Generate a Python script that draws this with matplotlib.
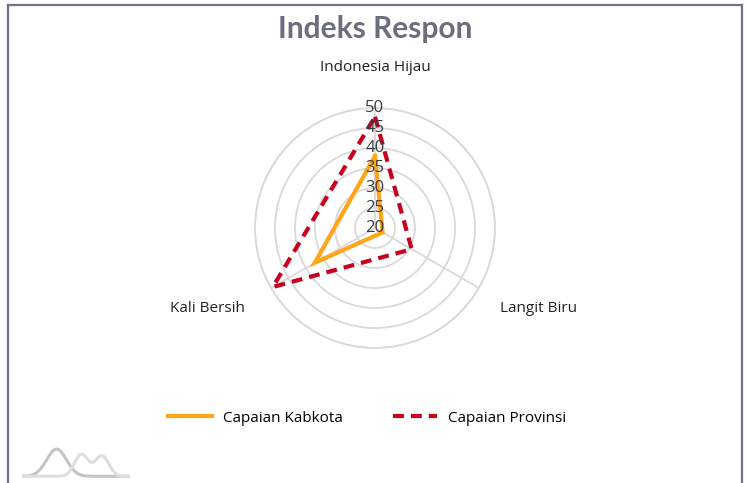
import numpy as np
import matplotlib
matplotlib.use("Agg")
from matplotlib import pyplot as plt
from matplotlib.lines import Line2D

# data
categories = ["Indonesia Hijau", "Langit Biru", "Kali Bersih"]
kabkota = [38.0, 22.2, 37.4]
provinsi = [47.8, 30.6, 49.5]
r_ticks = [20, 25, 30, 35, 40, 45, 50]
series_names = ["Capaian Kabkota", "Capaian Provinsi"]

plt.rcParams["font.family"] = ["Open Sans", "DejaVu Sans"]

fig = plt.figure(figsize=(7.47, 4.83), dpi=100)

# radar axes, centre ~ (375, 228) px, radius ~120 px
cx, cy, rad = 375 / 747, 1 - 228 / 483, 120
ax = fig.add_axes([cx - rad / 747, cy - rad / 483, 2 * rad / 747, 2 * rad / 483],
                  projection="polar")
ax.set_theta_offset(np.pi / 2)
ax.set_theta_direction(-1)
ax.set_ylim(r_ticks[0], r_ticks[-1])

angles = np.linspace(0, 2 * np.pi, len(categories), endpoint=False)
ax.set_xticks(angles)
ax.set_xticklabels([])
ax.set_yticks(r_ticks[1:])
ax.set_yticklabels([])
ax.grid(color="#d9d9d9", lw=1.3)
ax.spines["polar"].set_color("#d9d9d9")
ax.spines["polar"].set_linewidth(1.3)

closed = np.append(angles, angles[0])
ax.plot(closed, kabkota + kabkota[:1], color="#ffa51a", lw=3, zorder=4,
        label=series_names[0], solid_joinstyle="miter")
ax.plot(closed, provinsi + provinsi[:1], color="#c8001e", lw=3, zorder=5,
        dashes=(2.6, 1.7), label=series_names[1])

# tick labels on the vertical spoke
for v in r_ticks:
    ax.text(0, v, str(v), ha="center", va="center", fontsize=12,
            color="#3a3a3a", zorder=6)

# category labels
offsets = [(0, 29, "center"), (15, -14.5, "left"), (-19, -14.5, "right")]
for a, name, (dx, dy, ha) in zip(angles, categories, offsets):
    ax.annotate(name, xy=(a, r_ticks[-1]), xytext=(dx, dy), textcoords="offset points",
                ha=ha, va="center", fontsize=11, color="#222222",
                annotation_clip=False)

fig.text(0.502, 1 - 29 / 483, "Indeks Respon", ha="center", va="center",
         fontsize=21.5, fontweight="bold", color="#6b6e7e", family=["Lato", "DejaVu Sans"])

fig.legend(loc="center", bbox_to_anchor=(0.491, 1 - 418 / 483), ncol=2, frameon=False,
           fontsize=11, handlelength=2.9, handletextpad=0.7, columnspacing=3.3)

# frame of the card
frame_c = "#6e7385"
fig.add_artist(Line2D([8 / 747, 8 / 747], [0, 1 - 5 / 483], color=frame_c, lw=1.6))
fig.add_artist(Line2D([742 / 747, 742 / 747], [0, 1 - 5 / 483], color=frame_c, lw=1.6))
fig.add_artist(Line2D([8 / 747, 742 / 747], [1 - 5 / 483, 1 - 5 / 483], color=frame_c, lw=1.6))

# small watermark logo bottom-left
lax = fig.add_axes([22 / 747, 4 / 483, 108 / 747, 34 / 483])
xs = np.linspace(0, 1, 200)
lax.plot(xs, 0.08 + 0.8 * np.exp(-((xs - 0.32) / 0.13) ** 2), color="#c4c4c4", lw=2.2)
lax.plot(xs, 0.08 + 0.65 * np.exp(-((xs - 0.55) / 0.09) ** 2)
         + 0.6 * np.exp(-((xs - 0.74) / 0.09) ** 2), color="#dedede", lw=2.2)
lax.set_xlim(0, 1)
lax.set_ylim(0, 1)
lax.axis("off")

fig.savefig("out.png", dpi=100)
